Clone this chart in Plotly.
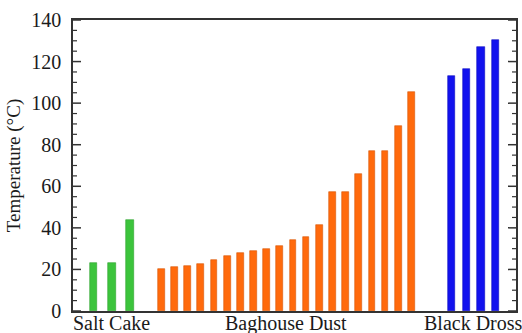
import plotly.graph_objects as go

# Measured temperatures (°C) for each sample, grouped by material type
salt_cake = [23, 23, 44]
baghouse_dust = [20, 21, 21.8, 22.6, 24.7, 26.4, 27.7, 28.8, 29.6, 31.2,
                 34.0, 35.8, 41.2, 57.3, 57.3, 65.8, 77.2, 77.2, 88.8, 105.3]
black_dross = [113.2, 116.4, 127.1, 130.4]

group_labels = ["Salt Cake", "Baghouse Dust", "Black Dross"]
major_ticks = [0, 20, 40, 60, 80, 100, 120, 140]
minor_ticks = [v for v in range(0, 141, 5) if v % 20]

# horizontal placement of each group: (first bar position, spacing, bar width)
placement = [(19.5, 18.3, 7.7), (87.5, 13.18, 6.7), (378.3, 14.67, 7.3)]
colors = ["#3cc43c", "#ff6a0c", "#1212ee"]
edges = ["#2fa22f", "#d85808", "#0c0cc0"]

W, H = 522, 333
M = dict(l=73, r=6, t=20, b=22)
plot_w = W - M["l"] - M["r"]

fig = go.Figure()
centers = []
for values, (start, step, width), col, edge in zip(
        [salt_cake, baghouse_dust, black_dross], placement, colors, edges):
    xs = [start + i * step for i in range(len(values))]
    centers.append((xs[0] + xs[-1]) / 2)
    fig.add_trace(go.Bar(
        x=xs, y=values, width=width,
        marker=dict(color=col, line=dict(color=edge, width=0.6)),
        showlegend=False,
    ))

serif = "Liberation Serif"
axis_color = "#333333"
text_color = "#1a1a1a"

# inward tick marks on both vertical edges (major 8 px, minor 4 px)
for vals, length, lw in [(major_ticks, 8, 1.5), (minor_ticks, 4, 1.2)]:
    frac = length / plot_w
    for v in vals:
        for x0, x1 in [(0, frac), (1 - frac, 1)]:
            fig.add_shape(type="line", xref="paper", yref="y",
                          x0=x0, x1=x1, y0=v, y1=v,
                          line=dict(color=axis_color, width=lw), layer="above")

# group names written just below the baseline, centred under each group
for label, cx in zip(group_labels, centers):
    fig.add_annotation(
        x=cx, y=0, xref="x", yref="paper", text=label, showarrow=False,
        yanchor="top", xanchor="center", yshift=1,
        font=dict(family=serif, size=20, color=text_color),
    )

fig.update_layout(
    width=W, height=H, margin=M,
    paper_bgcolor="white", plot_bgcolor="white",
    font=dict(family=serif, size=20, color=text_color),
    bargap=0,
    xaxis=dict(
        range=[-1, 442.7], automargin=False,
        showticklabels=False, ticks="", showgrid=False, zeroline=False,
        showline=True, linecolor=axis_color, linewidth=1.5, mirror=True,
    ),
    yaxis=dict(
        range=[0, 140], automargin=False,
        tickmode="array", tickvals=major_ticks, ticks="",
        showgrid=False, zeroline=False,
        showline=True, linecolor=axis_color, linewidth=1.5, mirror=True,
        tickfont=dict(family=serif, size=20, color=text_color),
        ticklabelstandoff=6,
        title=dict(text="Temperature (°C)",
                   font=dict(family=serif, size=19, color=text_color), standoff=6),
    ),
)

fig.write_html("out.html")
